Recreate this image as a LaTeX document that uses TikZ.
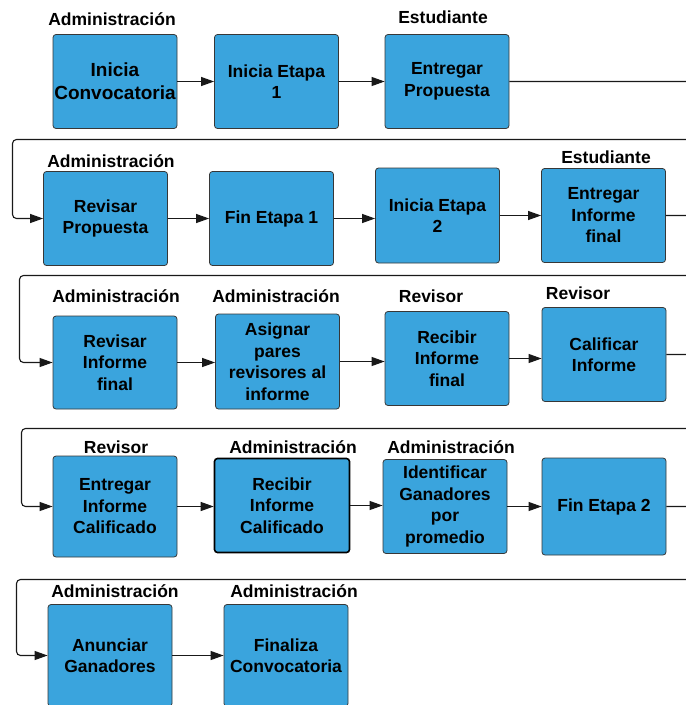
\documentclass[tikz,border=0pt]{standalone}
\usepackage{fontspec}
\setmainfont{Liberation Sans}
\usepackage{tikz}
\usetikzlibrary{arrows.meta}
\definecolor{boxblue}{RGB}{58,164,221}
\definecolor{boxedge}{RGB}{55,55,55}
\definecolor{flowline}{RGB}{25,25,25}

\begin{document}
\begin{tikzpicture}[x=1pt, y=-1pt,
    >={Triangle[length=13pt,width=9pt]},
    paso/.style={rectangle, rounded corners=3pt, draw=boxedge, line width=0.8pt,
        fill=boxblue, minimum width=124pt, minimum height=94pt, inner sep=1pt,
        align=center, font=\fontsize{17.5}{21.5}\selectfont\bfseries},
    actor/.style={font=\fontsize{17.5}{19}\selectfont\bfseries, inner sep=0pt},
    flujo/.style={draw=flowline, line width=1.1pt},
    vuelta/.style={flujo, rounded corners=4pt}]
\useasboundingbox (0,0) rectangle (686,705);
\newcommand{\Fuera}{700}; % vertical returns sit outside the page

% first row
\node[paso, font=\fontsize{19}{23}\selectfont\bfseries] (b1) at (115, 81.5) {Inicia\\Convocatoria};
\node[paso] (b2) at (276.5, 81.5) {Inicia Etapa\\1};
\node[paso] (b3) at (447, 81.5) {Entregar\\Propuesta};
\node[actor] (h1) at (112, 19) {Administración};
\node[actor] (h3) at (443, 17) {Estudiante};

% second row
\node[paso] (b4) at (105.5, 218.5) {Revisar\\Propuesta};
\node[paso] (b5) at (271.5, 218.5) {Fin Etapa 1};
\node[paso, minimum height=95pt] (b6) at (437.5, 215.5) {Inicia Etapa\\2};
\node[paso] (b7) at (603.5, 215.5) {Entregar\\Informe\\final};
\node[actor] (h4) at (111, 161) {Administración};
\node[actor] (h7) at (606, 157) {Estudiante};

% third row
\node[paso, minimum height=93pt] (b8) at (115, 362.5) {Revisar\\Informe\\final};
\node[paso, minimum height=95pt] (b9) at (277.5, 361.5) {Asignar\\pares\\revisores al\\informe};
\node[paso] (b10) at (447, 358.5) {Recibir\\Informe\\final};
\node[paso] (b11) at (604, 354.5) {Calificar\\Informe};
\node[actor] (h8) at (116, 296) {Administración};
\node[actor] (h9) at (276, 296) {Administración};
\node[actor] (h10) at (431, 296) {Revisor};
\node[actor] (h11) at (578, 293) {Revisor};

% fourth row
\node[paso, minimum height=101pt] (b12) at (115, 506.5) {Entregar\\Informe\\Calificado};
\node[paso, draw=black, line width=1.6pt, minimum width=135pt, minimum height=94pt] (b13) at (282, 505.5) {Recibir\\Informe\\Calificado};
\node[paso] (b14) at (445, 506.5) {Identificar\\Ganadores\\por\\promedio};
\node[paso, minimum height=97pt] (b15) at (604, 506.5) {Fin Etapa 2};
\node[actor] (h12) at (116, 447) {Revisor};
\node[actor] (h13) at (293, 447) {Administración};
\node[actor] (h14) at (451, 447) {Administración};

% last row, cut by the page
\node[paso, minimum height=102pt] (b16) at (110, 655.5) {Anunciar\\Ganadores};
\node[paso, minimum height=102pt] (b17) at (286, 655.5) {Finaliza\\Convocatoria};
\node[actor] (h16) at (115, 591) {Administración};
\node[actor] (h17) at (294, 591) {Administración};

% turning points of the returns
\coordinate (R1) at (\Fuera, 81.5);
\coordinate (L1) at (12.5, 139.5);
\coordinate (R2) at (\Fuera, 215.5);
\coordinate (L2) at (19.5, 275.5);
\coordinate (R3) at (\Fuera, 354.5);
\coordinate (L3) at (21.5, 428.5);
\coordinate (R4) at (\Fuera, 506.5);
\coordinate (L4) at (16.5, 579.5);

% flow
\draw[flujo, ->] (b1.east) -- (b1.east -| b2.west);
\draw[flujo, ->] (b2.east) -- (b2.east -| b3.west);
\draw[vuelta, ->] (b3.east) -- (R1) |- (L1) |- (b4.west);
\draw[flujo, ->] (b4.east) -- (b4.east -| b5.west);
\draw[flujo, ->] (b5.east) -- (b5.east -| b6.west);
\draw[flujo, ->] (b6.east) -- (b6.east -| b7.west);
\draw[vuelta, ->] (b7.east) -- (R2) |- (L2) |- (b8.west);
\draw[flujo, ->] (b8.east) -- (b8.east -| b9.west);
\draw[flujo, ->] (b9.east) -- (b9.east -| b10.west);
\draw[flujo, ->] (b10.east) -- (b10.east -| b11.west);
\draw[vuelta, ->] (b11.east) -- (R3) |- (L3) |- (b12.west);
\draw[flujo, ->] (b12.east) -- (b12.east -| b13.west);
\draw[flujo, ->] (b13.east) -- (b13.east -| b14.west);
\draw[flujo, ->] (b14.east) -- (b14.east -| b15.west);
\draw[vuelta, ->] (b15.east) -- (R4) |- (L4) |- (b16.west);
\draw[flujo, ->] (b16.east) -- (b16.east -| b17.west);
\end{tikzpicture}
\end{document}
